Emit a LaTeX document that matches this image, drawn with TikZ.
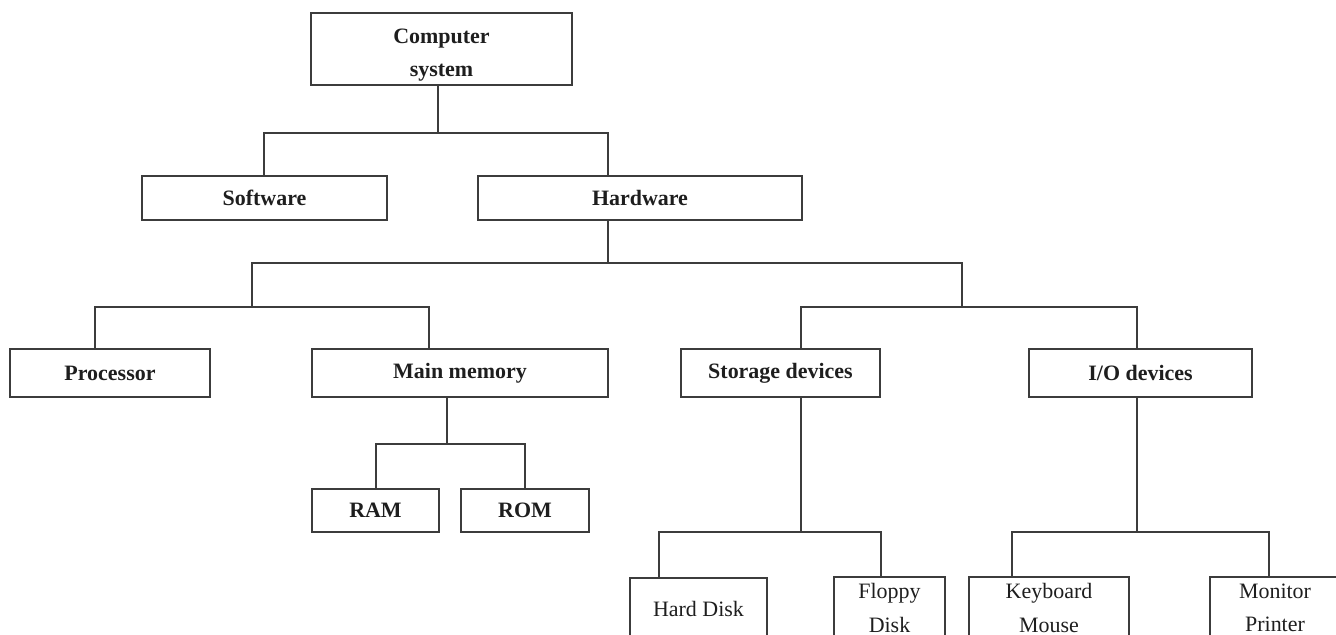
\documentclass[tikz,border=0pt]{standalone}
\usepackage{fontspec}
\setmainfont{Liberation Serif}
\usepackage{tikz}
\usetikzlibrary{calc}
\usetikzlibrary{positioning}
\definecolor{edge}{RGB}{60,60,60}
\definecolor{ink}{RGB}{30,30,30}

\begin{document}
\begin{tikzpicture}[x=0.02cm,y=-0.02cm,
  box/.style={draw=edge,line width=0.9pt,align=center,text=ink,inner sep=0pt,
    font=\fontsize{12.5}{19}\selectfont\bfseries},
  leaf/.style={box,font=\fontsize{12.5}{19}\selectfont},
  link/.style={edge,line width=0.9pt}]

\useasboundingbox (0,0) rectangle (1336,635);
\clip (0,0) rectangle (1336,635);

\node[box,minimum width=5.22cm,minimum height=1.44cm] (comp) at (441.5,49) {\rule{0pt}{15pt}Computer\\system};

\node[box,minimum width=4.9cm,minimum height=0.88cm] (soft) at (264.5,198) {Software};
\node[box,minimum width=6.48cm,minimum height=0.88cm] (hard) at (640,198) {Hardware};

\node[box,minimum width=4.0cm,minimum height=0.96cm] (proc) at (110,373) {Processor};
\node[box,minimum width=5.92cm,minimum height=0.96cm] (mem) at (460,373) {Main memory};
\node[box,minimum width=3.98cm,minimum height=0.96cm] (stor) at (780.5,373) {Storage devices};
\node[box,minimum width=4.46cm,minimum height=0.96cm] (io) at (1140.5,373) {I/O devices};

\node[box,minimum width=2.54cm,minimum height=0.86cm] (ram) at (375.5,510.5) {RAM};
\node[box,minimum width=2.56cm,minimum height=0.86cm] (rom) at (525,510.5) {ROM};

\node[leaf,minimum width=2.74cm,minimum height=1.24cm] (hdd) at (698.5,609) {Hard Disk};
\node[leaf,minimum width=2.22cm,minimum height=1.24cm] (flop) at (889.5,608) {Floppy\\Disk};
\node[leaf,minimum width=3.2cm,minimum height=1.24cm] (keyb) at (1049,608) {Keyboard\\Mouse};
\node[leaf,minimum width=2.6cm,minimum height=1.24cm] (moni) at (1275,608) {Monitor\\Printer};

% bar ends
\coordinate (c0) at (438,133);
\coordinate (c1) at (264,133);
\coordinate (c2) at (608,133);
\coordinate (h1) at (252,263);
\coordinate (h2) at (962,263);
\coordinate (p1) at (95,307);
\coordinate (p2) at (429,307);
\coordinate (s1) at (801,307);
\coordinate (s2) at (1137,307);
\coordinate (m0) at (447,444);
\coordinate (m1) at (376,444);
\coordinate (m2) at (525,444);
\coordinate (d1) at (659,532);
\coordinate (d2) at (881,532);
\coordinate (k1) at (1012,532);
\coordinate (k2) at (1269,532);

\draw[link] (c0 |- comp.south) -- (c0);
\draw[link] (c1 |- soft.north) -- (c1) -- (c2) -- (c2 |- hard.north);

\draw[link] (c2 |- hard.south) -- (c2 |- h1);
\draw[link] (h1 |- p1) -- (h1) -- (h2) -- (h2 |- s1);
\draw[link] (p1 |- proc.north) -- (p1) -- (p2) -- (p2 |- mem.north);
\draw[link] (s1 |- stor.north) -- (s1) -- (s2) -- (s2 |- io.north);

\draw[link] (m0 |- mem.south) -- (m0);
\draw[link] (m1 |- ram.north) -- (m1) -- (m2) -- (m2 |- rom.north);

\draw[link] (s1 |- stor.south) -- (s1 |- d1);
\draw[link] (d1 |- hdd.north) -- (d1) -- (d2) -- (d2 |- flop.north);
\draw[link] (s2 |- io.south) -- (s2 |- k1);
\draw[link] (k1 |- keyb.north) -- (k1) -- (k2) -- (k2 |- moni.north);
\end{tikzpicture}
\end{document}
